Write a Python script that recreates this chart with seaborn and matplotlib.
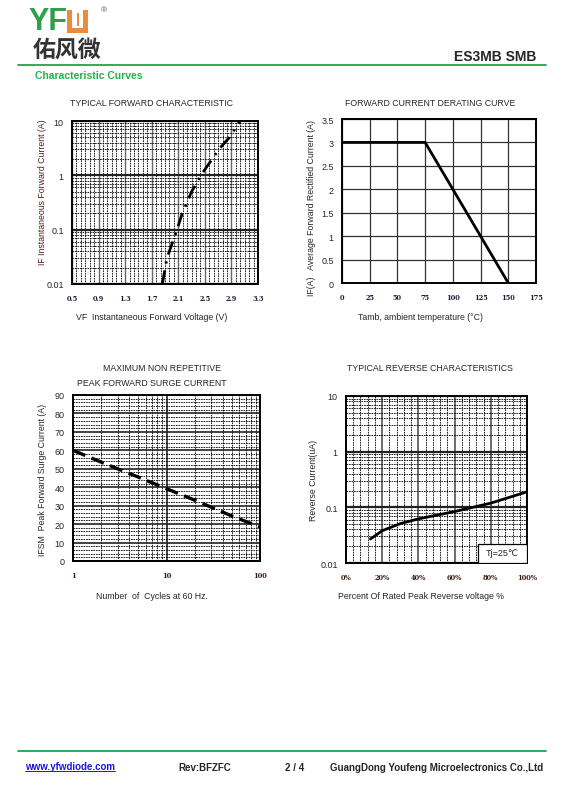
import matplotlib
matplotlib.use("Agg")
import matplotlib.pyplot as plt
import seaborn as sns
from matplotlib.ticker import FixedLocator, FixedFormatter, AutoMinorLocator, LogLocator, NullFormatter
from matplotlib.patches import Rectangle
from matplotlib.lines import Line2D

sns.set_style("white")
plt.rcParams['font.family'] = ['Liberation Sans', 'DejaVu Sans']

# ---- data ----
fwd_vf = [1.86, 1.93, 2.08, 2.16, 2.30, 2.44, 2.71, 2.87, 3.03]
fwd_if = [0.01, 0.03, 0.1, 0.2, 0.5, 1.0, 3.0, 5.0, 10.0]
fwd_xticks = [0.5, 0.9, 1.3, 1.7, 2.1, 2.5, 2.9, 3.3]
fwd_xlabels = ["0.5", "0.9", "1.3", "1.7", "2.1", "2.5", "2.9", "3.3"]
fwd_yticks = [0.01, 0.1, 1, 10]
fwd_ylabels = ["0.01", "0.1", "1", "10"]

der_temp = [0, 75, 150]
der_if = [3.0, 3.0, 0.0]
der_xticks = [0, 25, 50, 75, 100, 125, 150, 175]
der_yticks = [0, 0.5, 1, 1.5, 2, 2.5, 3, 3.5]
der_ylabels = ["0", "0.5", "1", "1.5", "2", "2.5", "3", "3.5"]

surge_cycles = [1, 2, 3, 5, 10, 20, 30, 50, 100]
surge_ifsm = [60.0, 53.6, 50.0, 45.5, 39.2, 33.0, 29.2, 24.4, 18.4]
surge_xticks = [1, 10, 100]
surge_yticks = [0, 10, 20, 30, 40, 50, 60, 70, 80, 90]

rev_pct = [13.5, 20, 30, 40, 60, 80, 100]
rev_ir = [0.027, 0.038, 0.051, 0.062, 0.084, 0.119, 0.19]
rev_xticks = [0, 20, 40, 60, 80, 100]
rev_xlabels = ["0%", "20%", "40%", "60%", "80%", "100%"]
rev_yticks = [0.01, 0.1, 1, 10]
rev_ylabels = ["0.01", "0.1", "1", "10"]

W, H = 566, 804
GREEN = "#1fa64a"
fig = plt.figure(figsize=(W / 100, H / 100), dpi=100)


def px(x, y):
    return x / W, 1 - y / H


def ax_at(l, t, r, b):
    return fig.add_axes([l / W, 1 - b / H, (r - l) / W, (b - t) / H])


def ftext(x, y, s, **kw):
    fig.text(*px(x, y), s, **kw)


xtick_font = dict(family='DejaVu Serif', weight='bold', size=4.8)


def style_axes(ax, xticks, xlabels, yticks, ylabels, xcolor='#1c1c3a'):
    ax.xaxis.set_major_locator(FixedLocator(xticks))
    ax.xaxis.set_major_formatter(FixedFormatter(xlabels))
    ax.yaxis.set_major_locator(FixedLocator(yticks))
    ax.yaxis.set_major_formatter(FixedFormatter(ylabels))
    ax.tick_params(axis='both', which='both', length=0)
    ax.tick_params(axis='x', pad=7)
    ax.tick_params(axis='y', pad=6, labelsize=6.5)
    for lab in ax.get_xticklabels():
        lab.set_fontproperties(matplotlib.font_manager.FontProperties(**xtick_font))
        lab.set_color(xcolor)
    for sp in ax.spines.values():
        sp.set_visible(True)
        sp.set_color('black')
        sp.set_linewidth(1.4)
    ax.set_xlabel("")
    ax.set_ylabel("")


def minor_grid(ax, axis):
    ax.grid(True, which='minor', axis=axis, color='black', lw=0.6, ls=(0, (2, 1)))


# ---------------- header ----------------
ftext(28, 22, "YF", color="#2e9e48", fontsize=22, fontweight='bold', va='center', ha='left')
fig.patches.append(Rectangle(px(67, 34), 21 / W, 23 / H, transform=fig.transFigure,
                             facecolor="#ef8a3a", edgecolor='none'))
fig.patches.append(Rectangle(px(72, 29), 11 / W, 18 / H, transform=fig.transFigure,
                             facecolor="white", edgecolor='none'))
fig.patches.append(Rectangle(px(76.5, 27), 2 / W, 13 / H, transform=fig.transFigure,
                             facecolor="#ef8a3a", edgecolor='none'))
ftext(104, 11, "®", color="#555555", fontsize=6, va='center', ha='center')
ftext(33, 50, "佑风微", family=['Noto Sans CJK SC', 'DejaVu Sans'], fontsize=16.5,
      fontweight='bold', color="#333333", va='center', ha='left')
ftext(536, 57, "ES3MB SMB", fontsize=10, fontweight='bold', ha='right', va='center')
fig.add_artist(Line2D([18 / W, 546 / W], [1 - 66 / H] * 2, color=GREEN, lw=1.3,
                      transform=fig.transFigure))
ftext(35, 76, "Characteristic Curves", color="#22b14c", fontsize=7.5,
      fontweight='bold', va='center', ha='left')

# ---------------- typical forward characteristic ----------------
ax1 = ax_at(72, 122, 258, 285)
ax1.set_yscale('log')
ax1.set_xlim(0.5, 3.3)
ax1.set_ylim(0.01, 10)
style_axes(ax1, fwd_xticks, fwd_xlabels, fwd_yticks, fwd_ylabels)
ax1.xaxis.set_minor_locator(AutoMinorLocator(6))
ax1.yaxis.set_minor_locator(LogLocator(base=10, subs=range(2, 10)))
ax1.yaxis.set_minor_formatter(NullFormatter())
ax1.grid(True, which='major', axis='x', color='#666666', lw=1.0)
ax1.grid(True, which='major', axis='y', color='#222222', lw=1.6)
minor_grid(ax1, 'both')
sns.lineplot(x=fwd_vf, y=fwd_if, ax=ax1, color='black', lw=2.0,
             linestyle=(0, (5, 2.5, 0.8, 2.5)))
ftext(151, 103, "TYPICAL FORWARD CHARACTERISTIC", fontsize=6.3, ha='center', va='center')
ftext(152, 318, "VF  Instantaneous Forward Voltage (V)", fontsize=6.3, ha='center', va='center')
ftext(43, 192, "IF Instantaneous Forward Current (A)", fontsize=6.3, ha='center',
      va='center', rotation=90, color='#4a2418')

# ---------------- forward current derating ----------------
ax2 = ax_at(342, 120, 536, 284)
ax2.set_xlim(0, 175)
ax2.set_ylim(0, 3.5)
style_axes(ax2, der_xticks, [str(v) for v in der_xticks], der_yticks, der_ylabels)
ax2.grid(True, which='major', color='#333333', lw=0.9)
sns.lineplot(x=der_temp, y=der_if, ax=ax2, color='black', lw=2.0)
ftext(430, 103, "FORWARD CURRENT DERATING CURVE", fontsize=6.3, ha='center', va='center')
ftext(420, 318, "Tamb, ambient temperature (°C)", fontsize=6.3, ha='center', va='center')
ftext(312, 208, "IF(A)   Average Forward Rectified Current (A)", fontsize=6.3,
      ha='center', va='center', rotation=90)

# ---------------- peak forward surge current ----------------
ax3 = ax_at(73, 396, 260, 562)
ax3.set_xscale('log')
ax3.set_xlim(1, 100)
ax3.set_ylim(0, 90)
style_axes(ax3, surge_xticks, [str(v) for v in surge_xticks], surge_yticks,
           [str(v) for v in surge_yticks], xcolor='#3a1a10')
ax3.xaxis.set_minor_locator(LogLocator(base=10, subs=range(2, 10)))
ax3.xaxis.set_minor_formatter(NullFormatter())
ax3.yaxis.set_minor_locator(AutoMinorLocator(5))
ax3.grid(True, which='major', color='#222222', lw=1.2)
minor_grid(ax3, 'both')
sns.lineplot(x=surge_cycles, y=surge_ifsm, ax=ax3, color='black', lw=2.4,
             linestyle=(0, (4, 2)))
ftext(162, 369, "MAXIMUM NON REPETITIVE", fontsize=6.3, ha='center', va='center')
ftext(152, 384, "PEAK FORWARD SURGE CURRENT", fontsize=6.3, ha='center', va='center')
ftext(152, 597, "Number  of  Cycles at 60 Hz.", fontsize=6.3, ha='center', va='center')
ftext(43, 480, "IFSM  Peak Forward Surge Current (A)", fontsize=6.3, ha='center',
      va='center', rotation=90)

# ---------------- typical reverse characteristics ----------------
ax4 = ax_at(346, 397, 527, 564)
ax4.set_yscale('log')
ax4.set_xlim(0, 100)
ax4.set_ylim(0.01, 10)
style_axes(ax4, rev_xticks, rev_xlabels, rev_yticks, rev_ylabels, xcolor='#3a1a10')
ax4.xaxis.set_minor_locator(AutoMinorLocator(5))
ax4.yaxis.set_minor_locator(LogLocator(base=10, subs=range(2, 10)))
ax4.yaxis.set_minor_formatter(NullFormatter())
ax4.grid(True, which='major', axis='x', color='#444444', lw=1.1)
ax4.grid(True, which='major', axis='y', color='#222222', lw=1.6)
minor_grid(ax4, 'both')
sns.lineplot(x=rev_pct, y=rev_ir, ax=ax4, color='black', lw=2.0)
ax4.add_patch(Rectangle((0.73, 0.0), 0.27, 0.115, transform=ax4.transAxes,
                        facecolor='white', edgecolor='black', lw=0.9, zorder=5))
ax4.text(0.865, 0.06, "Tj=25℃", transform=ax4.transAxes, fontsize=6.5, ha='center',
         va='center', family=['Liberation Sans', 'DejaVu Sans'], zorder=6)
ftext(430, 369, "TYPICAL REVERSE CHARACTERISTICS", fontsize=6.3, ha='center', va='center')
ftext(421, 597, "Percent Of Rated Peak Reverse voltage %", fontsize=6.3, ha='center', va='center')
ftext(313, 480, "Reverse Current(uA)", fontsize=6.3, ha='center', va='center', rotation=90)

# ---------------- footer ----------------
fig.add_artist(Line2D([18 / W, 546 / W], [1 - 752 / H] * 2, color=GREEN, lw=1.3,
                      transform=fig.transFigure))
ftext(25, 767, "www.yfwdiode.com", color="#1a1ad6", fontsize=7, fontweight='bold',
      va='center', ha='left')
fig.add_artist(Line2D([25 / W, 115 / W], [1 - 772 / H] * 2, color="#1a1ad6", lw=0.7,
                      transform=fig.transFigure))
ftext(178, 768, "Rev:BFZFC", fontsize=7, fontweight='bold', va='center', ha='left')
ftext(285, 768, "2 / 4", fontsize=7, fontweight='bold', va='center', ha='left')
ftext(543, 768, "GuangDong Youfeng Microelectronics Co.,Ltd", fontsize=7,
      fontweight='bold', va='center', ha='right')

fig.savefig("out.png", dpi=100, facecolor='white')
